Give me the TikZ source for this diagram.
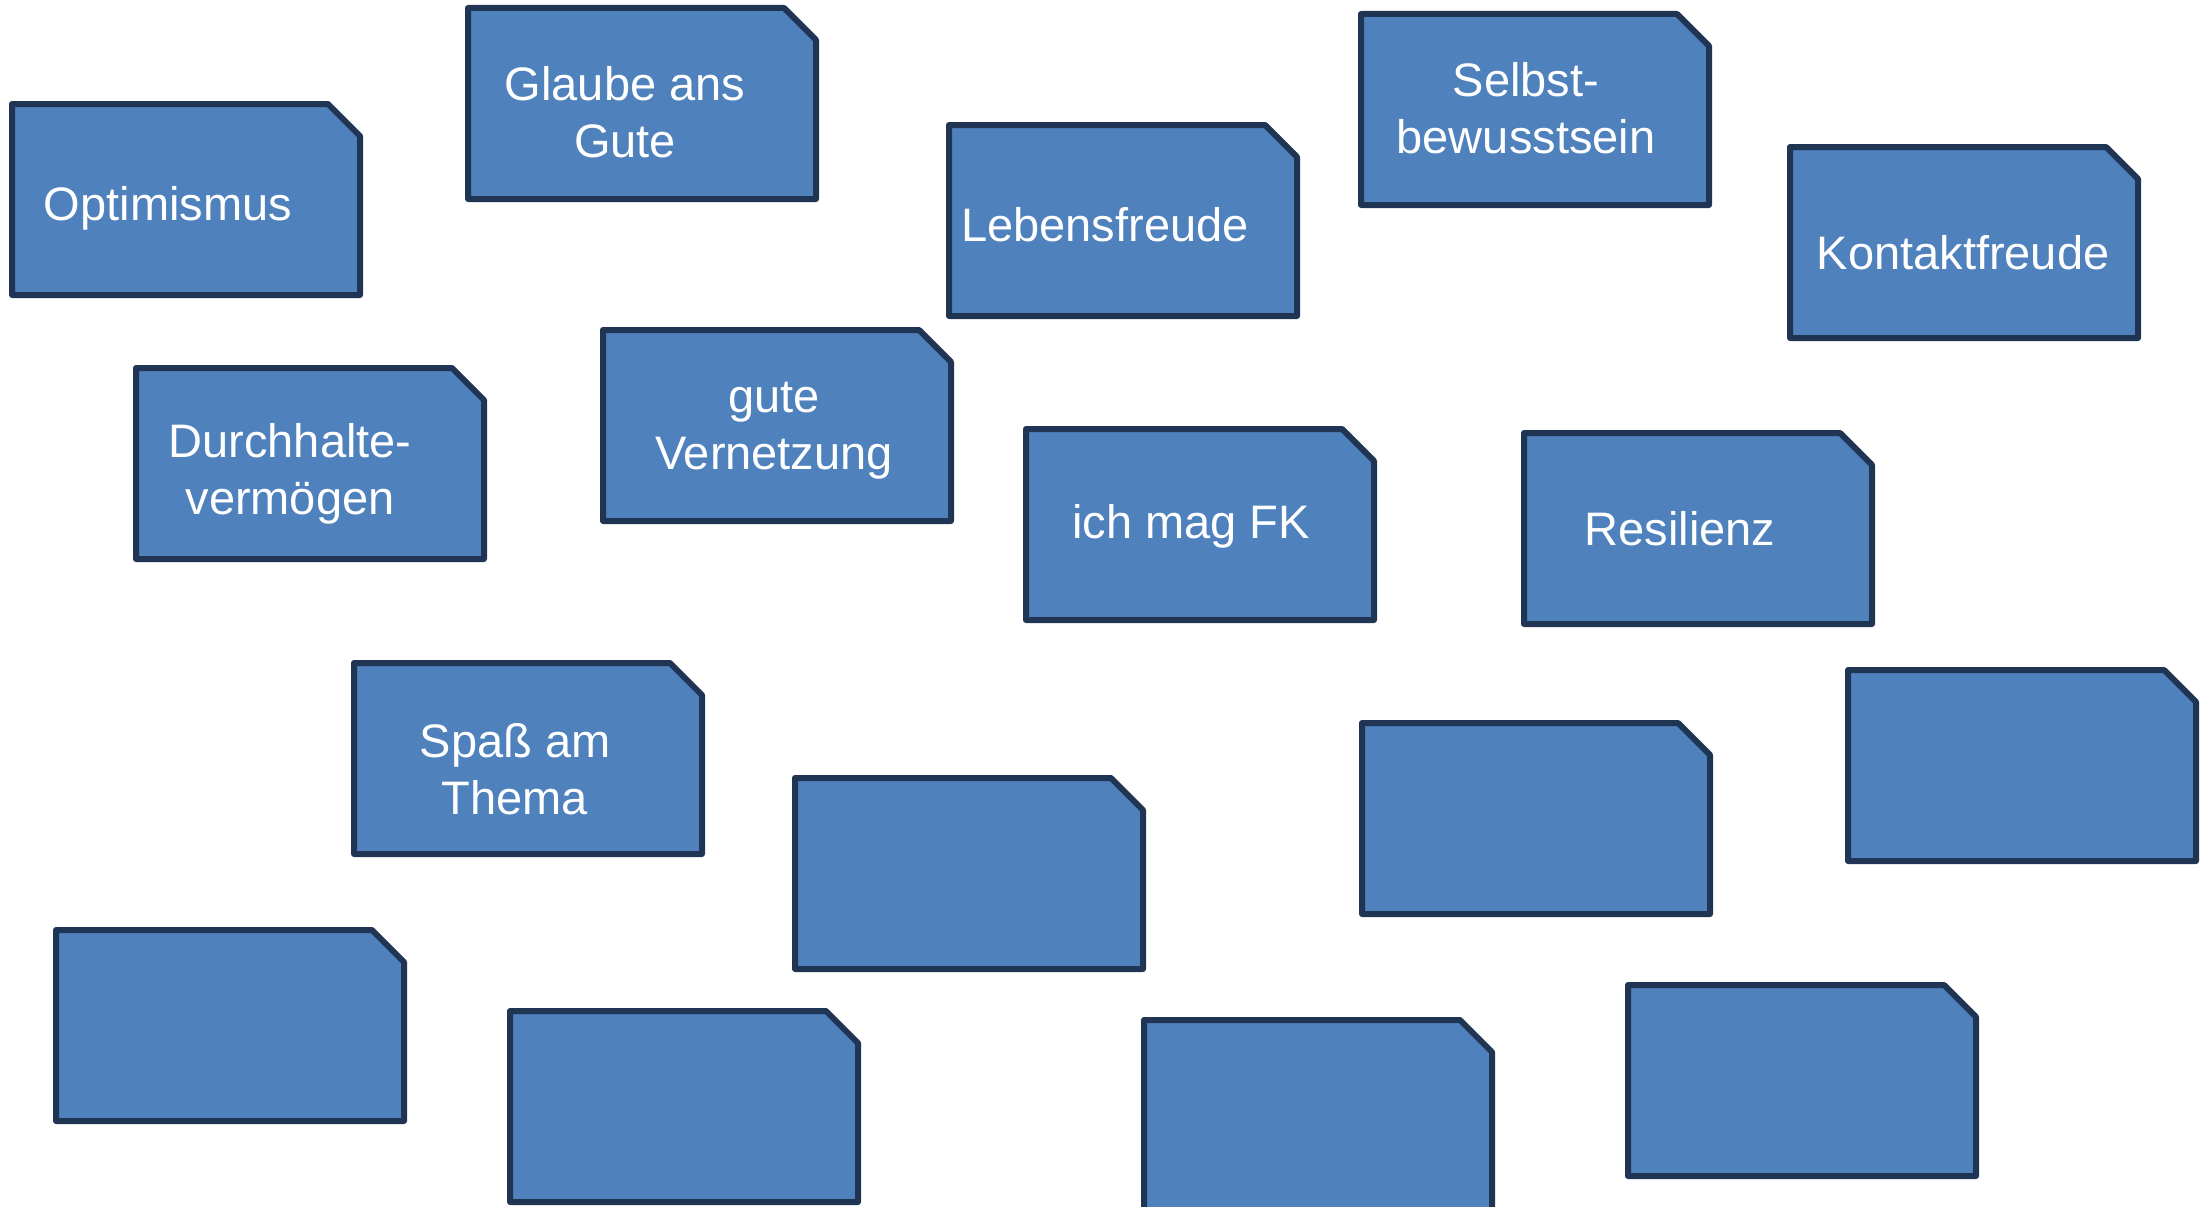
\documentclass[tikz,border=0pt]{standalone}
\usepackage{fontspec}
\setmainfont{Liberation Sans}
\definecolor{boxfill}{HTML}{4F81BD}
\definecolor{boxline}{HTML}{1F3553}
\begin{document}
\begin{tikzpicture}[x=1pt,y=-1pt,
  boxsty/.style={fill=boxfill,draw=boxline,line width=6pt,line join=round},
  lbl/.style={text=white,font=\fontsize{47}{57}\selectfont,align=center,anchor=base,inner sep=0pt}]
\useasboundingbox (0,0) rectangle (2208,1207);
\clip (0,0) rectangle (2208,1207);
\foreach \bx/\by/\bn in {9/101/b1,465/5/b2,946/122/b3,1358/11/b4,1787/144/b5,
  133/365/b6,600/327/b7,1023/426/b8,1521/430/b9,351/660/b10,
  792/775/b11,1359/720/b12,1845/667/b13,53/927/b14,507/1008/b15,1141/1017/b16,1625/982/b17}{
  \draw[boxsty] (\bx+3,\by+3) -- ++(316,0) -- ++(32,32) -- ++(0,159) -- ++(-348,0) -- cycle;
  \coordinate (\bn) at (\bx+177,\by+98);
}
\node[lbl] (t1) at (168,220) {Optimismus};
\node[lbl] (t2) at (625,157) {Glaube ans\\Gute};
\node[lbl] (t3) at (1105,241) {Lebensfreude};
\node[lbl] (t4) at (1526,153) {Selbst-\\bewusstsein};
\node[lbl] (t5) at (1963,269) {Kontaktfreude};
\node[lbl] (t6) at (290,514) {Durchhalte-\\vermögen};
\node[lbl] (t7) at (774,469) {gute\\Vernetzung};
\node[lbl] (t8) at (1191,538) {ich mag FK};
\node[lbl] (t9) at (1680,545) {Resilienz};
\node[lbl] (t10) at (515,814) {Spaß am\\Thema};
\end{tikzpicture}
\end{document}
